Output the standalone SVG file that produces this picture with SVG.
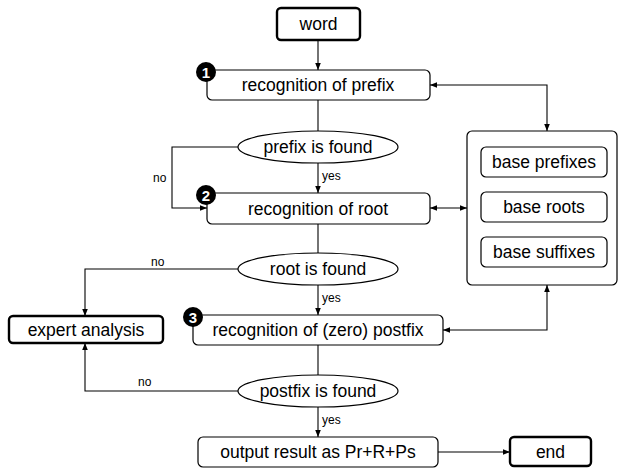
<svg xmlns="http://www.w3.org/2000/svg" width="619" height="468" viewBox="0 0 619 468">
<style>
.box{fill:#fff;stroke:#000;stroke-width:1.2}
.thick{fill:#fff;stroke:#000;stroke-width:2.4}
.t{font-family:"Liberation Sans",Arial,sans-serif;font-size:17.5px;fill:#000;text-anchor:middle;dominant-baseline:central}
.s{font-family:"Liberation Sans",Arial,sans-serif;font-size:12px;fill:#000}
.c{fill:none;stroke:#000;stroke-width:1.1}
.badge{fill:#000}
.bt{font-family:"Liberation Sans",Arial,sans-serif;font-size:15px;font-weight:bold;fill:#fff;text-anchor:middle;dominant-baseline:central}
</style>
<defs>
<marker id="ah" viewBox="0 0 10 10" refX="10" refY="5" markerWidth="7" markerHeight="7" markerUnits="userSpaceOnUse" orient="auto-start-reverse">
<path d="M0,1 L10,5 L0,9 z" fill="#000"/>
</marker>
</defs>
<g id="connectors">
<path class="c" d="M318,40 V70" marker-end="url(#ah)"/>
<path class="c" d="M318,100 V131"/>
<path class="c" d="M430,85 H547 V131" marker-start="url(#ah)" marker-end="url(#ah)"/>
<path class="c" d="M318,163 V193" marker-end="url(#ah)"/>
<path class="c" d="M238,147 H172 V208 H207" marker-end="url(#ah)"/>
<path class="c" d="M430,208 H467" marker-start="url(#ah)" marker-end="url(#ah)"/>
<path class="c" d="M318,224 V253"/>
<path class="c" d="M238,269 H85 V316" marker-end="url(#ah)"/>
<path class="c" d="M318,285 V315" marker-end="url(#ah)"/>
<path class="c" d="M443,330 H547 V285" marker-start="url(#ah)" marker-end="url(#ah)"/>
<path class="c" d="M318,345 V375"/>
<path class="c" d="M238,391 H85 V343" marker-end="url(#ah)"/>
<path class="c" d="M318,407 V437" marker-end="url(#ah)"/>
<path class="c" d="M438,452 H510" marker-end="url(#ah)"/>
<text class="s" x="322" y="180">yes</text>
<text class="s" x="322" y="302">yes</text>
<text class="s" x="322" y="424">yes</text>
<text class="s" x="153" y="182">no</text>
<text class="s" x="151" y="266">no</text>
<text class="s" x="138" y="386">no</text>
</g>
<g id="word"><rect class="thick" x="277" y="8" width="83" height="32" rx="4"/><text class="t" x="318.5" y="24">word</text></g>
<g id="rec-prefix"><rect class="box" x="207" y="70" width="223" height="30" rx="5"/><text class="t" x="318" y="85">recognition of prefix</text>
<circle class="badge" cx="206" cy="72" r="10"/><text class="bt" x="206" y="72.5">1</text></g>
<g id="prefix-found"><ellipse class="box" cx="318" cy="147" rx="80" ry="16"/><text class="t" x="318" y="147">prefix is found</text></g>
<g id="rec-root"><rect class="box" x="207" y="193" width="223" height="31" rx="5"/><text class="t" x="318" y="208.5">recognition of root</text>
<circle class="badge" cx="206" cy="195" r="10"/><text class="bt" x="206" y="195.5">2</text></g>
<g id="root-found"><ellipse class="box" cx="318" cy="269" rx="80" ry="16"/><text class="t" x="318" y="269">root is found</text></g>
<g id="expert"><rect class="thick" x="9" y="316" width="154" height="27" rx="4"/><text class="t" x="86" y="329.5">expert analysis</text></g>
<g id="rec-postfix"><rect class="box" x="193" y="315" width="250" height="30" rx="5"/><text class="t" x="318" y="330">recognition of (zero) postfix</text>
<circle class="badge" cx="193" cy="317" r="10"/><text class="bt" x="193" y="317.5">3</text></g>
<g id="postfix-found"><ellipse class="box" cx="318" cy="391" rx="80" ry="16"/><text class="t" x="318" y="391">postfix is found</text></g>
<g id="output"><rect class="box" x="198" y="437" width="240" height="30" rx="5"/><text class="t" x="318" y="452">output result as Pr+R+Ps</text></g>
<g id="end"><rect class="thick" x="510" y="437" width="81" height="29" rx="4"/><text class="t" x="550.5" y="451.5">end</text></g>
<g id="bases"><rect class="box" x="467" y="131" width="150" height="154" rx="5"/>
<g id="base-prefixes"><rect class="box" x="481" y="147" width="126" height="30" rx="5"/><text class="t" x="544" y="162">base prefixes</text></g>
<g id="base-roots"><rect class="box" x="481" y="192" width="126" height="30" rx="5"/><text class="t" x="544" y="207">base roots</text></g>
<g id="base-suffixes"><rect class="box" x="481" y="237" width="126" height="30" rx="5"/><text class="t" x="544" y="252">base suffixes</text></g>
</g>
</svg>
